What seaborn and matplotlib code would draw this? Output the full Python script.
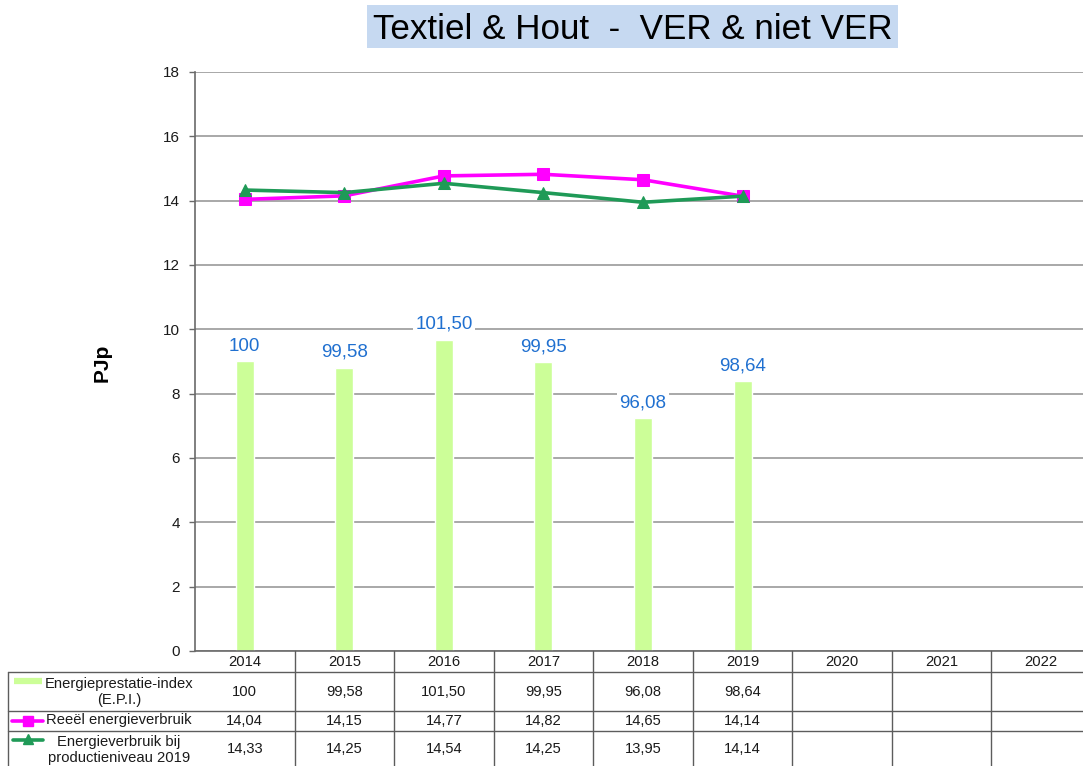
import numpy as np
import matplotlib
matplotlib.use("Agg")
import matplotlib.pyplot as plt
from matplotlib.patches import Rectangle
import seaborn as sns

# ---- data -------------------------------------------------------------
years = ["2014", "2015", "2016", "2017", "2018", "2019", "2020", "2021", "2022"]
epi = [100, 99.58, 101.50, 99.95, 96.08, 98.64]
reeel = [14.04, 14.15, 14.77, 14.82, 14.65, 14.14]
prod2019 = [14.33, 14.25, 14.54, 14.25, 13.95, 14.14]
row_names = ["Energieprestatie-index\n(E.P.I.)",
             "Reeël energieverbruik",
             "Energieverbruik bij\nproductieniveau 2019"]
y_ticks = list(range(0, 19, 2))
title = "Textiel & Hout  -  VER & niet VER"

# ---- styling ----------------------------------------------------------
sns.set_theme(style="white")
plt.rcParams["font.family"] = ["Liberation Sans", "DejaVu Sans"]

C_BAR = "#ccfe98"
C_REEEL = "#ff00ff"
C_PROD = "#1f9a57"
C_LABEL = "#2070d0"
C_GRID = "#a8a8a8"
C_AXIS = "#6a6a6a"
C_TABLE = "#5c5c5c"
C_TEXT = "#1a1a1a"


def fmt(v):
    if float(v).is_integer():
        return str(int(v))
    return f"{v:.2f}".replace(".", ",")


W, H = 1083, 766
fig = plt.figure(figsize=(W / 100, H / 100), dpi=100)


def fx(p):
    return p / W


def fy(p):
    return 1 - p / H


# plot area (right edge runs slightly past the canvas)
left_px, right_px, top_px, bottom_px = 195, 1091, 72, 651
rect = [fx(left_px), fy(bottom_px), (right_px - left_px) / W, (bottom_px - top_px) / H]

# EPI bars on their own index scale, underneath
axb = fig.add_axes(rect)
epi_lo, epi_hi = 80, 120
sns.barplot(x=years[:len(epi)], y=epi, order=years, color=C_BAR, saturation=1,
            width=0.18, ax=axb, zorder=2)
axb.set_ylim(epi_lo, epi_hi)
axb.set_yticks(epi_lo + np.array(y_ticks) * (epi_hi - epi_lo) / 18)
axb.yaxis.grid(True, color=C_GRID, lw=1.4, zorder=0)
axb.set_axisbelow(True)
axb.tick_params(axis="both", length=0, labelleft=False, labelbottom=False)
axb.set_xlabel("")
axb.set_ylabel("")
for s in axb.spines.values():
    s.set_visible(False)

for i, v in enumerate(epi):
    axb.annotate(fmt(v), (i, v), xytext=(0, 5), textcoords="offset points",
                 ha="center", va="bottom", color=C_LABEL, fontsize=13.5,
                 bbox=dict(fc="white", ec="none", pad=1.5), zorder=3)

# energy lines on PJp scale, on top
ax = axb.twinx()
sns.lineplot(x=np.arange(len(reeel)), y=reeel, color=C_REEEL, lw=2.6,
             marker="s", markersize=8, markeredgecolor=C_REEEL, ax=ax)
sns.lineplot(x=np.arange(len(prod2019)), y=prod2019, color=C_PROD, lw=2.6,
             marker="^", markersize=8, markeredgecolor=C_PROD, ax=ax)
ax.set_ylim(0, 18)
ax.set_yticks(y_ticks)
ax.yaxis.tick_left()
ax.yaxis.set_label_position("left")
ax.tick_params(axis="y", direction="out", length=4, width=1, color=C_AXIS,
               labelsize=11, labelcolor=C_TEXT, pad=7)
ax.tick_params(axis="x", length=0, labelbottom=False)
ax.set_xlim(-0.5, 8.5)
ax.set_xlabel("")
ax.set_ylabel("PJp", fontsize=15, fontweight="bold", color="black")
ax.yaxis.set_label_coords(-0.093, 0.497)
for k in ("top", "right"):
    ax.spines[k].set_visible(False)
for k in ("left", "bottom"):
    ax.spines[k].set_color(C_AXIS)
    ax.spines[k].set_linewidth(1.2)

# ---- data table below the plot ---------------------------------------
tab_left_px = 8
col_w = (right_px - left_px) / 9
x0 = -0.5 - (left_px - tab_left_px) / col_w
tab = fig.add_axes([fx(tab_left_px), 0, (right_px - tab_left_px) / W, (H - bottom_px) / H])
tab.set_xlim(x0, 8.5)
tab.set_ylim(H, bottom_px)
tab.axis("off")


def px(p):
    return x0 + (p - tab_left_px) / col_w


row_bounds = [bottom_px, 672, 711, 731]
line_kw = dict(color=C_TABLE, lw=1.0, clip_on=False)
for yb in row_bounds[1:]:
    tab.plot([x0, 8.5], [yb, yb], **line_kw)
tab.plot([x0, x0], [row_bounds[1], H], **line_kw)
for k in range(1, 10):
    tab.plot([k - 0.5, k - 0.5], [bottom_px, H], **line_kw)

tsize = 10.6
for i, yr in enumerate(years):
    tab.text(i, 662, yr, ha="center", va="center", fontsize=tsize, color=C_TEXT)

row_centers = [692, 721, 749]
row_series = [epi, reeel, prod2019]
for yc, series in zip(row_centers, row_series):
    for i, v in enumerate(series):
        tab.text(i, yc, fmt(v), ha="center", va="center", fontsize=tsize, color=C_TEXT)

# legend keys in the first column
tab.plot([px(14), px(42)], [681, 681], color=C_BAR, lw=4.5, solid_capstyle="butt", clip_on=False)
tab.plot([px(12), px(43)], [721, 721], color=C_REEEL, lw=2.6, clip_on=False)
tab.plot([px(28)], [721], color=C_REEEL, marker="s", markersize=7, clip_on=False)
tab.plot([px(13), px(43)], [740, 740], color=C_PROD, lw=2.6, clip_on=False)
tab.plot([px(28)], [739], color=C_PROD, marker="^", markersize=7, clip_on=False)

for yc, name in zip([692, 720, 750], row_names):
    tab.text(px(119), yc, name, ha="center", va="center", fontsize=tsize,
             color=C_TEXT, linespacing=1.2)

# ---- title box -------------------------------------------------------
fig.patches.append(Rectangle((fx(367), fy(48)), 531 / W, 43 / H,
                             transform=fig.transFigure, fc="#c6d9f1", ec="none"))
fig.text(fx(633), fy(39), title, ha="center", va="baseline", fontsize=25.2, color="black")

fig.savefig("out.png", dpi=100, facecolor="white")
